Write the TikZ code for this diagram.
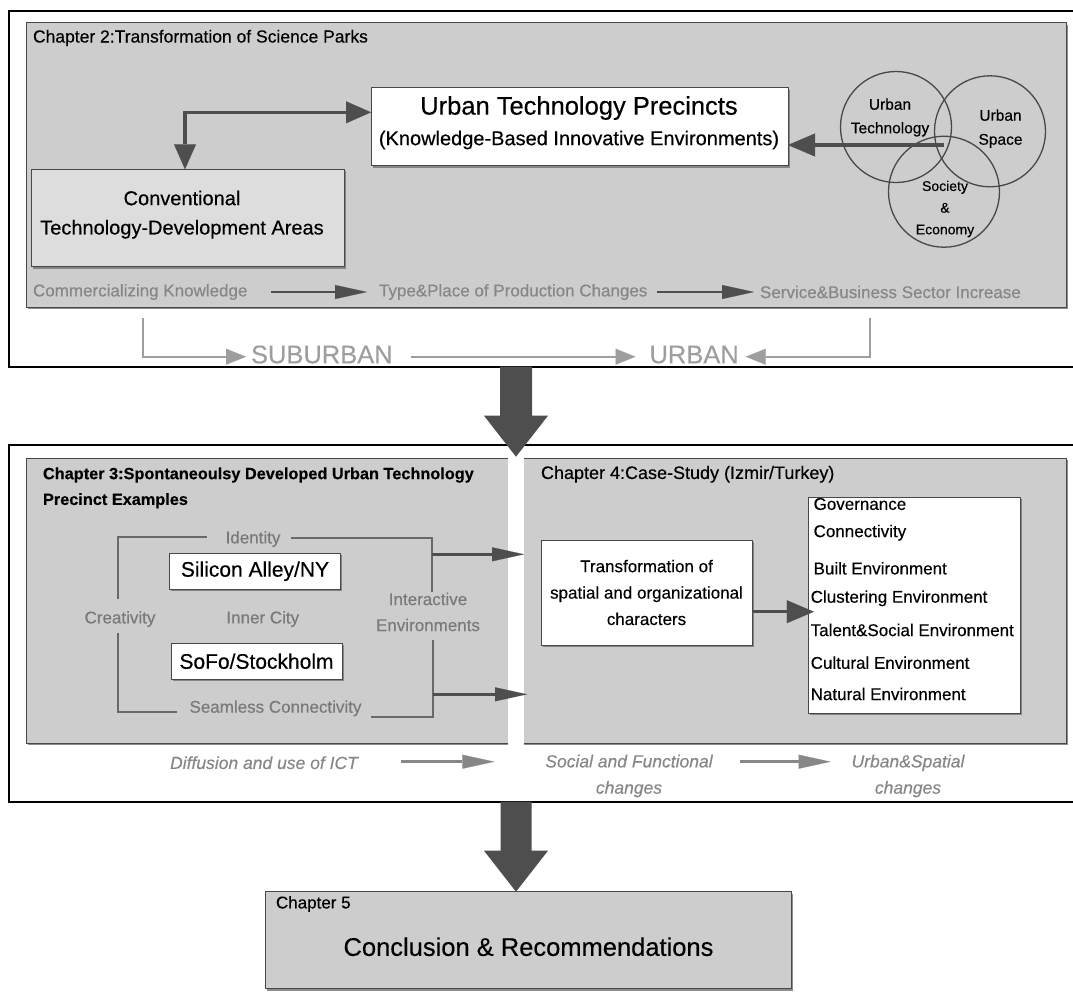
\documentclass[tikz,border=0pt]{standalone}
\usepackage{fontspec}
\setmainfont{Liberation Sans}[FakeBold=0.35]
\usetikzlibrary{arrows.meta,shadows,calc}

\definecolor{panelgray}{RGB}{205,205,205}
\definecolor{convgray}{RGB}{221,221,221}
\definecolor{darkarrow}{RGB}{78,78,78}
\definecolor{boxedge}{RGB}{72,72,72}
\definecolor{labelgray}{RGB}{122,122,122}
\definecolor{rowgray}{RGB}{135,135,135}
\definecolor{lightline}{RGB}{158,158,158}
\definecolor{bracketgray}{RGB}{105,105,105}

\newcommand{\fsz}[2]{\fontsize{#1}{#2}\selectfont}

\begin{document}
\begin{tikzpicture}[x=1pt,y=-1pt,
  every node/.style={inner sep=0pt, outer sep=0pt},
  frame/.style={draw=black, line width=1.6pt, anchor=north west},
  panel/.style={draw=boxedge, line width=0.8pt, fill=panelgray, anchor=north west,
    drop shadow={shadow xshift=1.5pt, shadow yshift=-1.8pt, fill=black, opacity=0.45}},
  whitebox/.style={draw=boxedge, line width=0.8pt, fill=white, align=center,
    drop shadow={shadow xshift=1.5pt, shadow yshift=-1.8pt, fill=black, opacity=0.35}},
  head/.style={font=\fsz{17.5}{21}, anchor=west},
  txt/.style={font=\fsz{17}{26}},
  graytxt/.style={font=\fsz{17}{26}, text=labelgray, align=center},
  rowtxt/.style={font=\fsz{17}{21}, text=rowgray, anchor=west},
  ittxt/.style={font=\fsz{17.5}{26.3}\itshape, text=rowgray, align=center},
  placetxt/.style={font=\fsz{25.5}{30}, text=lightline, anchor=base west},
  circ/.style={circle, draw=boxedge, line width=1.3pt, minimum size=111pt},
  ctxt/.style={align=center},
  darrow/.style={draw=darkarrow, line width=3.5pt,
    arrows={-Triangle[length=27pt,width=23pt,line width=0.1pt]}},
  twoway/.style={draw=darkarrow, line width=3.5pt,
    arrows={Triangle[length=25pt,width=22pt,line width=0.1pt]-Triangle[length=25pt,width=22pt,line width=0.1pt]}},
  flowarrow/.style={draw=darkarrow, line width=2.8pt,
    arrows={-Triangle[length=32pt,width=14pt,line width=0.1pt]}},
  softarrow/.style={draw=rowgray, line width=2.8pt,
    arrows={-Triangle[length=32pt,width=14pt,line width=0.1pt]}},
  placearrow/.style={draw=lightline, line width=2.2pt,
    arrows={-Triangle[length=20pt,width=16pt,line width=0.1pt]}},
  bracket/.style={draw=bracketgray, line width=1.8pt},
]
\useasboundingbox (0,0) rectangle (1073,994);

% ---------- outer frames and grey panels ----------
\node[frame, minimum width=1071pt, minimum height=356pt] (frame1) at (9,10.7) {};
\node[frame, minimum width=1071pt, minimum height=356.7pt] (frame2) at (9,445) {};

\node[panel, minimum width=1040pt, minimum height=284.6pt] (ch2) at (26,22.7) {};
\node[panel, minimum width=1040pt, minimum height=284.8pt] (mid) at (26,458.5) {};
\node[fill=white, anchor=north west, minimum width=16pt, minimum height=296pt] (gap) at (508,452) {};
\node[panel, minimum width=526.2pt, minimum height=97pt] (ch5) at (265.3,891.7) {};

% ---------- Chapter 2 ----------
\node[head] (t2) at (33,38) {Chapter 2:Transformation of Science Parks};

\node[whitebox, minimum width=417pt, minimum height=78pt] (utp) at (579.5,126.7) {};
\node[font=\fsz{25.5}{30}] (utp1) at (579,108) {Urban Technology Precincts};
\node[font=\fsz{20}{24}] (utp2) at (579,140) {(Knowledge-Based Innovative Environments)};

\node[whitebox, fill=convgray, minimum width=312.7pt, minimum height=97.4pt] (conv) at (188,218) {};
\node[font=\fsz{20}{24}] (conv1) at (182,198) {Conventional};
\node[font=\fsz{20}{24}] (conv2) at (182,229.3) {Technology-Development Areas};

\draw[twoway] ($(conv.north)+(-3,0)$) |- ($(utp.west)+(0,-14.4)$);

\node[circ] (c1) at (896,127) {};
\node[circ] (c2) at (990,131.3) {};
\node[circ] (c3) at (944,191.7) {};
\node[ctxt, font=\fsz{15.5}{23.6}] (c1t) at (890,117.5) {Urban\\Technology};
\node[ctxt, font=\fsz{15.5}{24}] (c2t) at (1000.5,128.7) {Urban\\Space};
\node[ctxt, font=\fsz{14}{21.7}] (c3t) at (945,209) {Society\\\&\\Economy};

\coordinate (venn) at (944,145);
\draw[darrow] (venn) -- (venn -| utp.east);

\node[rowtxt] (ck) at (33,292) {Commercializing Knowledge};
\node[rowtxt] (tp) at (379,292) {Type\&Place of Production Changes};
\node[rowtxt] (sb) at (760,292) {Service\&Business Sector Increase};
\draw[flowarrow] ($(ck.east)+(24,0)$) -- ($(tp.west)+(-12,0)$);
\draw[flowarrow] ($(tp.east)+(10,0)$) -- ($(sb.west)+(-6,0)$);

% ---------- suburban / urban ----------
\node[placetxt] (sub) at (251,363.3) {SUBURBAN};
\node[placetxt] (urb) at (649.5,363.3) {URBAN};
\coordinate (ybar) at (0,356.7);
\coordinate (subtop) at (143,318.3);
\coordinate (urbtop) at (870,318.3);
\draw[placearrow] (subtop) |- ($(sub.west |- ybar)+(-5,0)$);
\draw[placearrow] ($(sub.east |- ybar)+(18,0)$) -- ($(urb.west |- ybar)+(-14,0)$);
\draw[placearrow] (urbtop) |- ($(urb.east |- ybar)+(7,0)$);

% ---------- Chapter 3 ----------
\node[head, font=\bfseries\fsz{16.3}{21}] (t3a) at (43,475) {Chapter 3:Spontaneoulsy Developed Urban Technology};
\node[head, font=\bfseries\fsz{16.3}{21}] (t3b) at (43,500.7) {Precinct Examples};

\node[graytxt] (ident) at (253,539) {Identity};
\node[graytxt] (creat) at (120,619) {Creativity};
\node[graytxt] (inner) at (262.8,619) {Inner City};
\node[graytxt] (inter) at (428,612) {Interactive\\Environments};
\node[graytxt] (seam) at (275.5,708.3) {Seamless Connectivity};

\node[whitebox, minimum width=170.4pt, minimum height=35.7pt, font=\fsz{21}{25}] (sa) at (255,571.2) {Silicon Alley/NY};
\node[whitebox, minimum width=171pt, minimum height=35.7pt, font=\fsz{21}{25}] (sofo) at (256.5,661.2) {SoFo/Stockholm};

\draw[bracket] ($(ident.west)+(-19,-2)$) -| ($(creat.north)+(-2,-12)$);
\draw[bracket] ($(ident.east)+(11,-1)$) -| ($(inter.north)+(4,-1)$);
\draw[bracket] ($(creat.south)+(-2,6)$) |- ($(seam.west)+(-13,3.4)$);
\draw[bracket] ($(seam.east)+(10,8.4)$) -| ($(inter.south)+(5,9)$);

\coordinate (arrA) at (432,554.3);
\coordinate (arrB) at (433,694.3);
\draw[flowarrow, line width=3.2pt] (arrA) -- (arrA -| gap.east);
\draw[flowarrow, line width=3.2pt] (arrB) -- ($(arrB -| gap.east)+(3,0)$);

% ---------- Chapter 4 ----------
\node[head, font=\fsz{18}{21}] (t4) at (541,474.3) {Chapter 4:Case-Study (Izmir/Turkey)};
\node[whitebox, minimum width=211pt, minimum height=105pt, font=\fsz{17}{26.4}] (trans) at (646.5,592.5)
  {Transformation of\\spatial and organizational\\characters};

\node[whitebox, anchor=north west, minimum width=211.2pt, minimum height=216pt] (attrs) at (808.8,497.3) {};
\node[txt, anchor=west] (gov) at (813.6,504) {Governance};
\node[txt, anchor=west] (conn) at (813.6,532.7) {Connectivity};
\node[txt, anchor=west] (built) at (813.6,568.3) {Built Environment};
\node[txt, anchor=west] (clus) at (810.7,598.3) {Clustering Environment};
\node[txt, anchor=west] (tal) at (810.7,630) {Talent\&Social Environment};
\node[txt, anchor=west] (cult) at (810.7,662.7) {Cultural Environment};
\node[txt, anchor=west] (nat) at (810.7,694) {Natural Environment};

\coordinate (tA) at ($(trans.east)+(0,19.2)$);
\draw[darrow, line width=3pt] (tA) -- ($(tA -| attrs.west)+(5,0)$);

% ---------- drivers row ----------
\node[ittxt] (diff) at (264,762.7) {Diffusion and use of ICT};
\node[ittxt] (socf) at (629,776) {Social and Functional\\changes};
\node[ittxt] (urbsp) at (908,776) {Urban\&Spatial\\changes};
\draw[softarrow] ($(diff.east)+(43,-1)$) -- ($(socf.west |- diff.east)+(-51,-1)$);
\draw[softarrow] ($(socf.east |- diff.east)+(27,-1)$) -- ($(urbsp.west |- diff.east)+(-21,-1)$);

% ---------- Chapter 5 ----------
\node[head, font=\fsz{17}{20}] (t5) at (276,904) {Chapter 5};
\node[font=\fsz{25.5}{30}] (concl) at (528.5,946.7) {Conclusion \& Recommendations};

% ---------- block arrows between chapters ----------
\coordinate (tip1) at (516,456.7);
\coordinate (tip2) at (516,0 |- ch5.north);
\fill[darkarrow] ($(frame1.south -| tip1)+(-16,0)$) -- ($(tip1)+(-16,-41)$) -- ($(tip1)+(-32,-41)$)
  -- (tip1) -- ($(tip1)+(32,-41)$) -- ($(tip1)+(16,-41)$) -- ($(frame1.south -| tip1)+(16,0)$) -- cycle;
\fill[darkarrow] ($(frame2.south -| tip2)+(-15.5,0)$) -- ($(tip2)+(-15.5,-41)$) -- ($(tip2)+(-32,-41)$)
  -- (tip2) -- ($(tip2)+(32,-41)$) -- ($(tip2)+(15.5,-41)$) -- ($(frame2.south -| tip2)+(15.5,0)$) -- cycle;
\end{tikzpicture}
\end{document}
